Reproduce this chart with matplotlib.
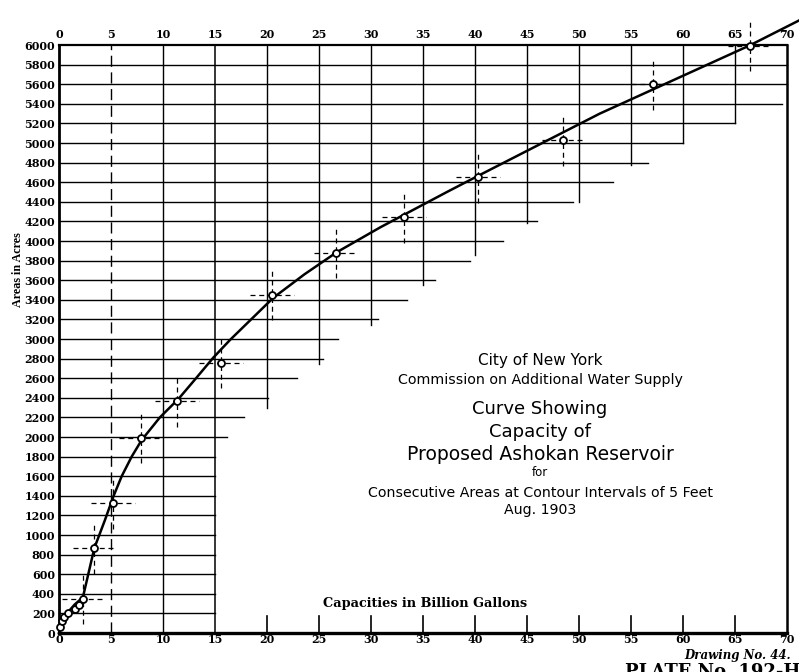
import matplotlib
matplotlib.use("Agg")
import matplotlib.pyplot as plt

# capacity (billion gallons) vs. area (acres), Ashokan reservoir, 1903
curve_cap = [0, 0.3, 0.8, 1.5, 2.3, 3.4, 4.42, 5.22, 6.03, 6.99, 7.95,
             9.7, 11.5, 13.1, 14.84, 16.44, 20.6, 23.6, 26.7, 30.9, 37.3,
             40.3, 52.0, 66.4, 71.15]
curve_area = [0, 110, 205, 290, 365, 867, 1153, 1391, 1600, 1800, 1969,
              2200, 2390, 2590, 2810, 2990, 3420, 3660, 3885, 4140, 4500,
              4665, 5300, 5995, 6250]

# plotted contour observations
obs_cap = [0.1, 0.25, 0.45, 0.9, 1.5, 1.95, 2.35, 3.4, 5.2, 7.85, 11.35,
           15.55, 20.5, 26.6, 33.2, 40.3, 48.5, 57.1, 66.4]
obs_area = [60, 120, 165, 205, 245, 285, 350, 865, 1325, 1990, 2365,
            2760, 3450, 3880, 4240, 4650, 5030, 5600, 5990]

# ruled lines of the sheet: how far each area line runs to the right,
# and how far down each capacity line comes from the top
area_levels = list(range(200, 6000, 200))
area_line_end = [15, 15, 15, 15, 15, 15, 15, 15, 15, 16.2, 17.8, 20.1, 22.9,
                 25.4, 26.8, 30.7, 33.5, 36.2, 39.5, 42.7, 46, 49.4, 53.3,
                 56.6, 60, 65, 69.5, 70, 70]
cap_levels = [20, 25, 30, 35, 40, 45, 50, 55, 60, 65]
cap_line_end = [2300, 2750, 3140, 3550, 3860, 4180, 4400, 4780, 5000, 5200]

x_ticks = list(range(0, 71, 5))
y_ticks = list(range(0, 6001, 200))

fig = plt.figure(figsize=(7.99, 6.72), dpi=100)
ax = fig.add_axes([59 / 799, 39 / 672, 728 / 799, 588 / 672])
ax.set_xlim(0, 70)
ax.set_ylim(0, 6000)
for s in ax.spines.values():
    s.set_visible(False)

# ruled grid
for lev, end in zip(area_levels, area_line_end):
    ax.plot([0, end], [lev, lev], color="black", lw=1.0, clip_on=False)
for lev, end in zip(cap_levels, cap_line_end):
    ax.plot([lev, lev], [end, 6000], color="black", lw=1.0, clip_on=False)
ax.plot([5, 5], [0, 6000], color="black", lw=1.0, ls=(0, (8, 4)))
ax.plot([10, 10], [0, 6000], color="black", lw=1.0)
ax.plot([15, 15], [0, 6000], color="black", lw=1.1)

# frame
ax.plot([0, 0], [0, 6000], color="black", lw=2.0, clip_on=False)
ax.plot([0, 70], [6000, 6000], color="black", lw=1.6, clip_on=False)
ax.plot([0, 70], [0, 0], color="black", lw=2.4, clip_on=False)
ax.plot([70, 70], [0, 6000], color="black", lw=1.8, clip_on=False)
for c in cap_levels:
    ax.plot([c, c], [0, 170], color="black", lw=1.2)

# dashed cross lines through the larger observations
for c, a in zip(obs_cap, obs_area):
    if a < 300:
        continue
    ax.plot([max(c - 2.1, 0), c + 2.1], [a, a], color="black", lw=0.9,
            ls=(0, (4, 3)), clip_on=False)
    ax.plot([c, c], [a - 260, a + 260], color="black", lw=0.9,
            ls=(0, (4, 3)), clip_on=False)

ax.plot(curve_cap, curve_area, color="black", lw=1.8, clip_on=False,
        zorder=4, solid_joinstyle="round")
ax.plot(obs_cap, obs_area, "o", ms=5, mfc="white", mec="black", mew=1.3,
        zorder=5, clip_on=False)

ax.set_xticks(x_ticks)
ax.set_yticks(y_ticks)
ax.set_xticklabels([str(t) for t in x_ticks])
ax.set_yticklabels([str(t) for t in y_ticks])
ax.tick_params(axis="x", top=True, labeltop=True, bottom=True,
               labelbottom=True, length=0)
ax.tick_params(axis="y", length=0, pad=3)
for lab in ax.get_yticklabels():
    lab.set_fontfamily("DejaVu Serif")
    lab.set_fontweight("bold")
    lab.set_fontsize(8)
for t in ax.xaxis.get_major_ticks():
    for lab in (t.label1, t.label2):
        lab.set_fontfamily("DejaVu Serif")
        lab.set_fontweight("bold")
        lab.set_fontsize(8)
ax.xaxis.set_tick_params(which="major", pad=0.5)
for t in ax.xaxis.get_major_ticks():
    t.label2.set_y(1.008)

serif_bold = dict(family="DejaVu Serif", weight="bold")
fig.text(18 / 799, 1 - 270 / 672, "Areas in Acres", rotation=90,
         ha="center", va="center", fontsize=8.7, family="Liberation Serif",
         weight="bold")
fig.text(425 / 799, 1 - 603 / 672, "Capacities in Billion Gallons",
         ha="center", va="center", fontsize=9.3, **serif_bold)
fig.text(791 / 799, 1 - 655 / 672, "Drawing No. 44.", ha="right",
         va="center", fontsize=8.5, style="italic", **serif_bold)
fig.text(625 / 799, 1 - 663 / 672, "PLATE No. 192-H", ha="left", va="top",
         fontsize=13, **serif_bold)

# title block
title_lines = [
    ("City of New York", 360, 11),
    ("Commission on Additional Water Supply", 380, 10.3),
    ("Curve Showing", 409, 13),
    ("Capacity of", 432, 13),
    ("Proposed Ashokan Reservoir", 455, 13.5),
    ("for", 472, 8.5),
    ("Consecutive Areas at Contour Intervals of 5 Feet", 493, 10.2),
    ("Aug. 1903", 510, 10.2),
]
for txt, py, size in title_lines:
    fig.text(540 / 799, 1 - py / 672, txt, ha="center", va="center",
             fontsize=size, family="DejaVu Sans")

fig.savefig("out.png", dpi=100)
